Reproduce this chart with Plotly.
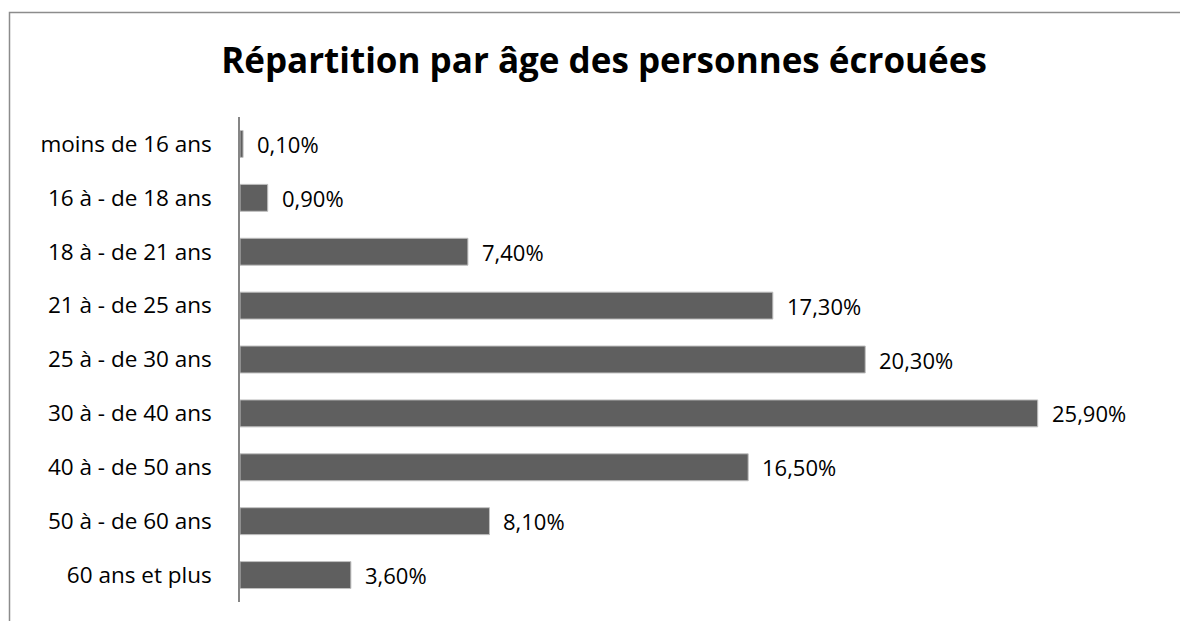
import plotly.graph_objects as go

# data
categories = ['moins de 16 ans', '16 à - de 18 ans', '18 à - de 21 ans', '21 à - de 25 ans',
              '25 à - de 30 ans', '30 à - de 40 ans', '40 à - de 50 ans', '50 à - de 60 ans',
              '60 ans et plus']
values = [0.1, 0.9, 7.4, 17.3, 20.3, 25.9, 16.5, 8.1, 3.6]
labels = ['{:.2f}%'.format(v).replace('.', ',') for v in values]

W, H = 1180, 621
L, R, T, B = 240, 16, 117, 19
pw = W - L - R
ph = H - T - B

fig = go.Figure(go.Bar(
    x=values, y=categories, orientation='h',
    marker=dict(color='#5f5f5f', line=dict(color='#c0c0c0', width=1)),
    width=0.5, hoverinfo='skip'))

# value labels to the right of each bar
for c, v, t in zip(categories, values, labels):
    fig.add_annotation(x=v, y=c, text=t, showarrow=False, xanchor='left',
                       xshift=12, font=dict(size=22, color='black'))

# outer chart frame (left and top edges visible)
fig.add_shape(type='rect', xref='paper', yref='paper',
              x0=(9.5 - L) / pw, x1=(W + 10 - L) / pw,
              y0=-(30) / ph, y1=(H - B - 12.5) / ph,
              line=dict(color='#8c8c8c', width=1.5), layer='below')

fig.update_layout(
    width=W, height=H,
    margin=dict(l=L, r=R, t=T, b=B),
    paper_bgcolor='white', plot_bgcolor='white',
    font=dict(family='Open Sans', color='black'),
    title=dict(text='<b>Répartition par âge des personnes écrouées</b>',
               x=604 / W, xanchor='center', y=1 - 61 / H, yanchor='middle',
               font=dict(size=35, color='black')),
    showlegend=False,
    bargap=0.5,
)
fig.update_xaxes(range=[0, pw / 30.8], visible=False, fixedrange=True)
fig.update_yaxes(categoryorder='array', categoryarray=categories, autorange='reversed',
                 showline=True, linecolor='#868686', linewidth=1.5, ticks='',
                 showgrid=False, tickfont=dict(size=22.5), ticklabelstandoff=22,
                 fixedrange=True)

fig.write_html('out.html', config={'displayModeBar': False},
               post_script="document.body.style.margin='0';")
